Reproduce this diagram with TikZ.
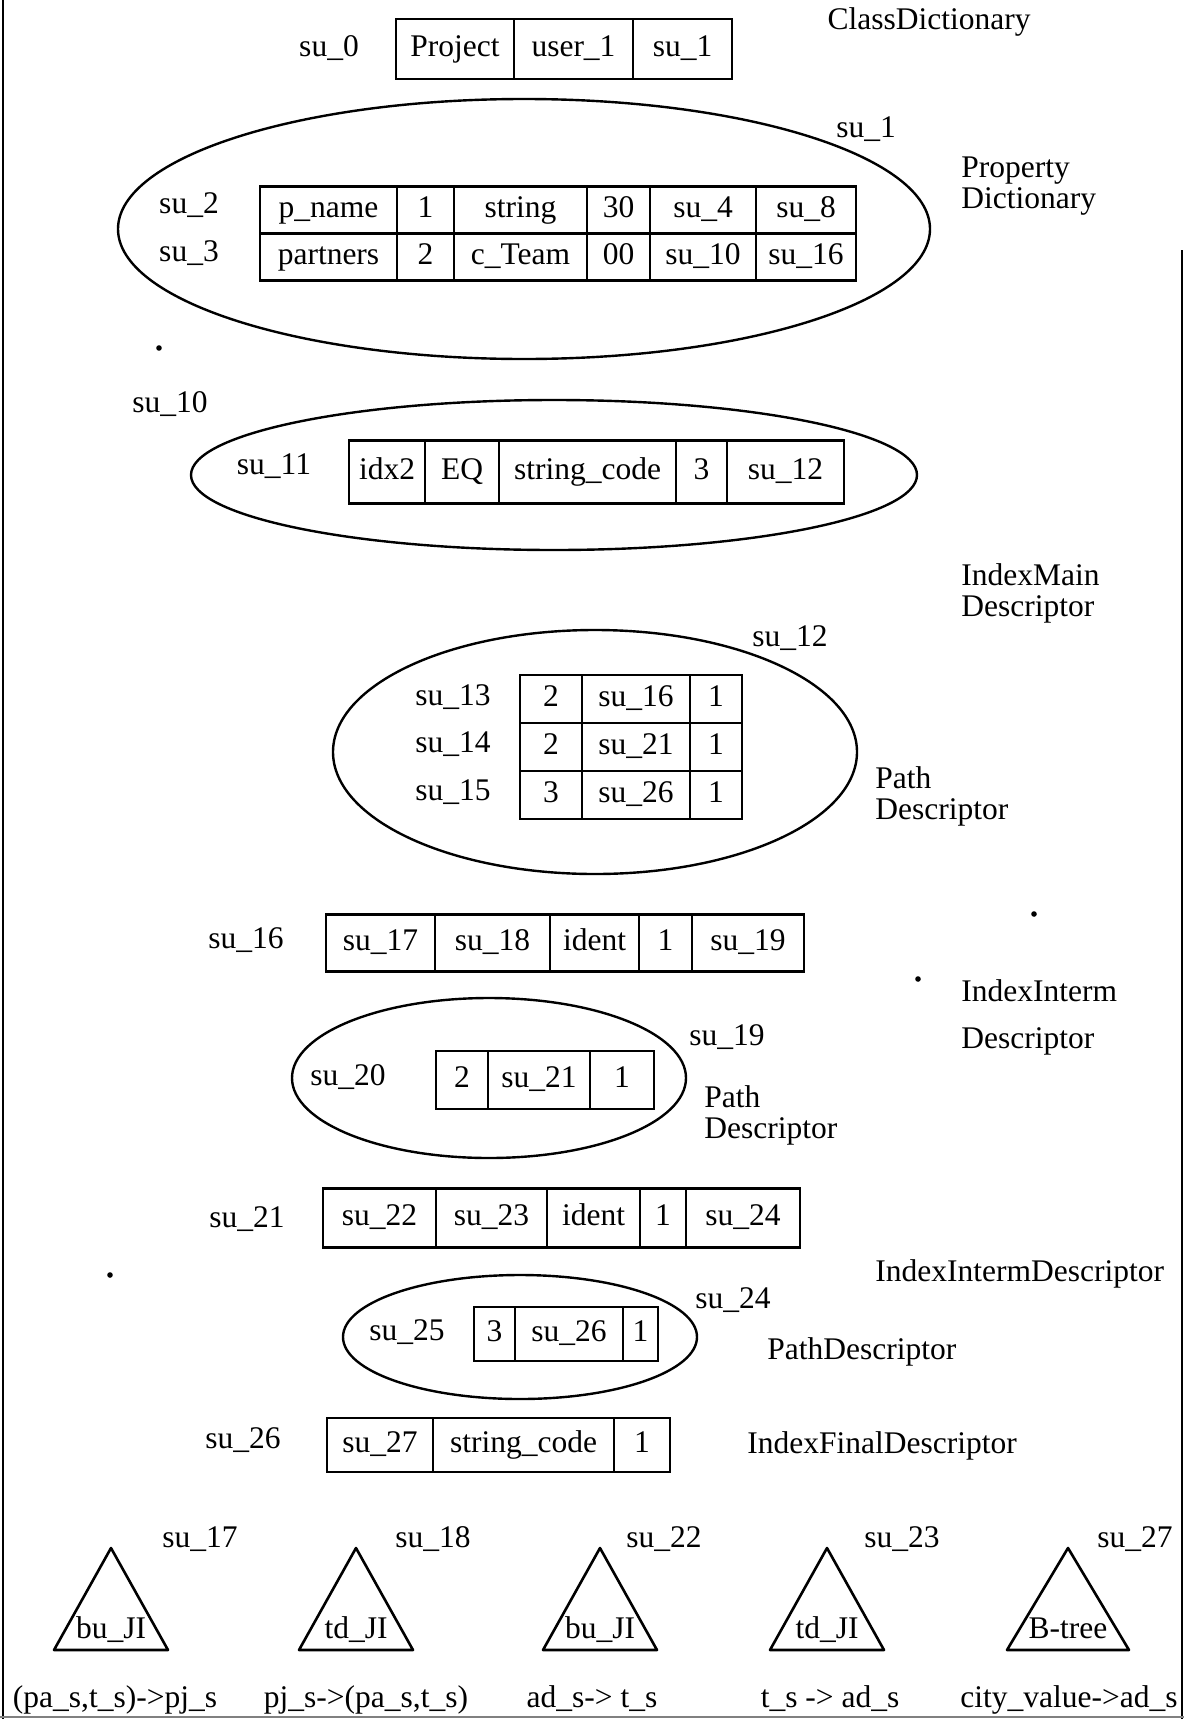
\documentclass[tikz,border=0pt]{standalone}
\usepackage{fontspec}
\setmainfont{Liberation Serif}
\usetikzlibrary{positioning,shapes.geometric}
\tikzset{
  cell/.style={draw,line width=1.3pt,inner sep=0pt,outer sep=0pt,minimum height=#1,text height=0.9em,text depth=0.12em},
  cell/.default=27pt,
  lbl/.style={inner sep=0pt,text height=0.9em,text depth=0.12em},
  desc/.style={anchor=west,align=left,inner sep=0pt},
  frame/.style={ellipse,draw,line width=1.2pt,inner sep=0pt},
  tri/.style={line width=1.3pt,line join=round}
}
\begin{document}
\begin{tikzpicture}[x=0.5pt,y=-0.5pt,font=\fontsize{15.75}{15.5}\selectfont]
\useasboundingbox (0,0) rectangle (1184,1719);
\draw[line width=1pt] (3,0) -- (3,1719);
\draw[line width=1pt] (1182,250) -- (1182,1719);
\draw[line width=0.6pt,gray] (0,1717) -- (1184,1717);
\foreach \p in {(159,348),(110,1275),(1034,914),(918,979)} \fill \p circle (1.4pt);
% class dictionary
\node[lbl] (cdtxt) at (929,22) {ClassDictionary};
\node[lbl] (su0) at (329,49) {su\_0};
\node[cell=30pt,minimum width=59pt,anchor=west] (cd1) at (396,49) {Project};
\node[cell=30pt,minimum width=59.5pt,right=0pt of cd1] (cd2) {user\_1};
\node[cell=30pt,minimum width=49.5pt,right=0pt of cd2] (cd3) {su\_1};
% property dictionary
\node[frame,minimum width=406pt,minimum height=130pt] (pdict) at (524,229) {};
\node[lbl] (su1) at (866,130) {su\_1};
\node[desc] (pdtxt) at (961,186) {Property\\Dictionary};
\node[lbl] (su2) at (189,206) {su\_2};
\node[lbl] (su3) at (189,254) {su\_3};
\node[cell=23.5pt,minimum width=68.5pt,anchor=west] (pa1) at (260,210) {p\_name};
\node[cell=23.5pt,minimum width=28.5pt,right=0pt of pa1] (pa2) {1};
\node[cell=23.5pt,minimum width=66.5pt,right=0pt of pa2] (pa3) {string};
\node[cell=23.5pt,minimum width=31.5pt,right=0pt of pa3] (pa4) {30};
\node[cell=23.5pt,minimum width=53pt,right=0pt of pa4] (pa5) {su\_4};
\node[cell=23.5pt,minimum width=50pt,right=0pt of pa5] (pa6) {su\_8};
\node[cell=23.5pt,minimum width=68.5pt,below=0pt of pa1] (pb1) {partners};
\node[cell=23.5pt,minimum width=28.5pt,below=0pt of pa2] (pb2) {2};
\node[cell=23.5pt,minimum width=66.5pt,below=0pt of pa3] (pb3) {c\_Team};
\node[cell=23.5pt,minimum width=31.5pt,below=0pt of pa4] (pb4) {00};
\node[cell=23.5pt,minimum width=53pt,below=0pt of pa5] (pb5) {su\_10};
\node[cell=23.5pt,minimum width=50pt,below=0pt of pa6] (pb6) {su\_16};
% index main descriptor
\node[lbl] (su10) at (170,405) {su\_10};
\node[frame,minimum width=363pt,minimum height=75pt] (imain) at (554,475) {};
\node[lbl] (su11) at (274,467) {su\_11};
\node[cell=31.5pt,minimum width=38pt,anchor=west] (im1) at (349,472) {idx2};
\node[cell=31.5pt,minimum width=37pt,right=0pt of im1] (im2) {EQ};
\node[cell=31.5pt,minimum width=88.5pt,right=0pt of im2] (im3) {string\_code};
\node[cell=31.5pt,minimum width=25.5pt,right=0pt of im3] (im4) {3};
\node[cell=31.5pt,minimum width=58.5pt,right=0pt of im4] (im5) {su\_12};
\node[desc] (imtxt) at (961,593) {IndexMain\\Descriptor};
% path descriptor
\node[lbl] (su12) at (790,639) {su\_12};
\node[frame,minimum width=262pt,minimum height=122pt] (path1) at (595,752) {};
\node[lbl] (su13) at (453,698) {su\_13};
\node[lbl] (su14) at (453,745) {su\_14};
\node[lbl] (su15) at (453,793) {su\_15};
\node[cell=24pt,minimum width=31pt,anchor=west] (pp1) at (520,699) {2};
\node[cell=24pt,minimum width=54pt,right=0pt of pp1] (pp2) {su\_16};
\node[cell=24pt,minimum width=26pt,right=0pt of pp2] (pp3) {1};
\node[cell=24pt,minimum width=31pt,below=0pt of pp1] (pq1) {2};
\node[cell=24pt,minimum width=54pt,below=0pt of pp2] (pq2) {su\_21};
\node[cell=24pt,minimum width=26pt,below=0pt of pp3] (pq3) {1};
\node[cell=24pt,minimum width=31pt,below=0pt of pq1] (pr1) {3};
\node[cell=24pt,minimum width=54pt,below=0pt of pq2] (pr2) {su\_26};
\node[cell=24pt,minimum width=26pt,below=0pt of pq3] (pr3) {1};
\node[desc] (p1txt) at (875,796) {Path\\Descriptor};
% index interm descriptor
\node[lbl] (su16) at (246,941) {su\_16};
\node[cell=28.5pt,minimum width=54.5pt,anchor=west] (ia1) at (326,943) {su\_17};
\node[cell=28.5pt,minimum width=57.5pt,right=0pt of ia1] (ia2) {su\_18};
\node[cell=28.5pt,minimum width=44.5pt,right=0pt of ia2] (ia3) {ident};
\node[cell=28.5pt,minimum width=26.5pt,right=0pt of ia3] (ia4) {1};
\node[cell=28.5pt,minimum width=56pt,right=0pt of ia4] (ia5) {su\_19};
\node[desc] (iatxt) at (961,1017) {IndexInterm\\[8pt]Descriptor};
\node[lbl] (su19) at (727,1038) {su\_19};
\node[frame,minimum width=197pt,minimum height=80pt] (path2) at (489,1078) {};
\node[lbl] (su20) at (348,1078) {su\_20};
\node[cell=29pt,minimum width=26pt,anchor=west] (ps1) at (436,1080) {2};
\node[cell=29pt,minimum width=51pt,right=0pt of ps1] (ps2) {su\_21};
\node[cell=29pt,minimum width=32pt,right=0pt of ps2] (ps3) {1};
\node[desc] (p2txt) at (704,1115) {Path\\Descriptor};
\node[lbl] (su21) at (247,1220) {su\_21};
\node[cell=29.5pt,minimum width=56.5pt,anchor=west] (ib1) at (323,1218) {su\_22};
\node[cell=29.5pt,minimum width=55.5pt,right=0pt of ib1] (ib2) {su\_23};
\node[cell=29.5pt,minimum width=46.5pt,right=0pt of ib2] (ib3) {ident};
\node[cell=29.5pt,minimum width=23pt,right=0pt of ib3] (ib4) {1};
\node[cell=29.5pt,minimum width=57pt,right=0pt of ib4] (ib5) {su\_24};
\node[desc] (ibtxt) at (875,1274) {IndexIntermDescriptor};
\node[lbl] (su24) at (733,1301) {su\_24};
\node[frame,minimum width=177pt,minimum height=62pt] (path3) at (520,1337) {};
\node[lbl] (su25) at (407,1333) {su\_25};
\node[cell,minimum width=20.5pt,anchor=west] (pt1) at (474,1334) {3};
\node[cell,minimum width=54pt,right=0pt of pt1] (pt2) {su\_26};
\node[cell,minimum width=17.5pt,right=0pt of pt2] (pt3) {1};
\node[desc] (p3txt) at (767,1352) {PathDescriptor};
% index final descriptor
\node[lbl] (su26) at (243,1441) {su\_26};
\node[cell,minimum width=53pt,anchor=west] (if1) at (327,1445) {su\_27};
\node[cell,minimum width=90.5pt,right=0pt of if1] (if2) {string\_code};
\node[cell,minimum width=28pt,right=0pt of if2] (if3) {1};
\node[desc] (iftxt) at (747,1446) {IndexFinalDescriptor};
% index trees
\foreach \x/\w/\sx/\bx/\t/\s/\m [count=\i] in {
  111/57/200/115/bu\_JI/su\_17/{(pa\_s,t\_s)->pj\_s},
  356/57/433/366/td\_JI/su\_18/{pj\_s->(pa\_s,t\_s)},
  600/57/664/592/bu\_JI/su\_22/{ad\_s-> t\_s},
  827/57/902/830/td\_JI/su\_23/{t\_s -> ad\_s},
  1068/61/1135/1069/B-tree/su\_27/{city\_value->ad\_s}} {
  \draw[tri] (\x,1548) -- (\x+\w,1650) -- (\x-\w,1650) -- cycle;
  \node[lbl] (tl\i) at (\x,1631) {\t};
  \node[lbl] (ts\i) at (\sx,1540) {\s};
  \node[lbl] (tm\i) at (\bx,1700) {\m};
}
\end{tikzpicture}
\end{document}
